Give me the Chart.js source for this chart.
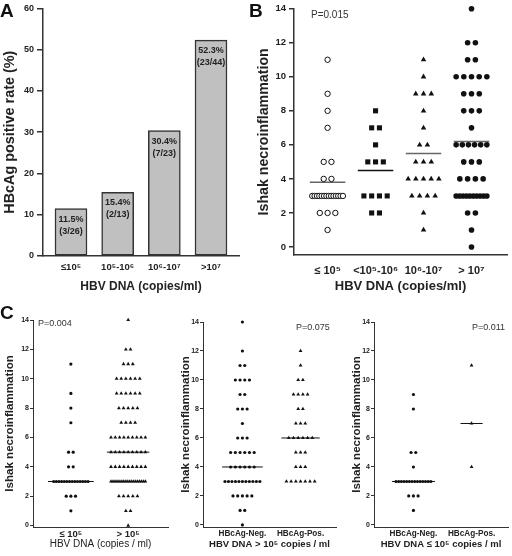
<!DOCTYPE html>
<html>
<head>
<meta charset="utf-8">
<script src="https://cdn.jsdelivr.net/npm/chart.js@4.4.1/dist/chart.umd.min.js"></script>
<style>
  body { margin: 0; background: #fff; }
  #page { position: relative; width: 512px; height: 556px; background: #fff; font-family: Arial, "Liberation Sans", sans-serif; }
  canvas { position: absolute; }
  .letter { position: absolute; font-weight: bold; font-size: 19px; line-height: 19px; color: #111; }
  .pval { position: absolute; line-height: 10px; color: #333; white-space: nowrap; }
</style>
</head>
<body>
<div id="page">
  <canvas id="chartA" width="250" height="300" style="left:0;top:0"></canvas>
  <canvas id="chartB" width="256" height="300" style="left:256px;top:0"></canvas>
  <canvas id="chartC1" width="172" height="256" style="left:0;top:300px"></canvas>
  <canvas id="chartC2" width="168" height="256" style="left:172px;top:300px"></canvas>
  <canvas id="chartC3" width="172" height="256" style="left:340px;top:300px"></canvas>

  <div class="letter" style="left:0;top:1px">A</div>
  <div class="letter" style="left:249px;top:1px">B</div>
  <div class="letter" style="left:0;top:303px">C</div>

  <div class="pval" style="left:311px;top:10px;font-size:10px">P=0.015</div>
  <div class="pval" style="left:38px;top:318px;font-size:9px">P=0.004</div>
  <div class="pval" style="left:296px;top:322px;font-size:9px">P=0.075</div>
  <div class="pval" style="left:472px;top:322px;font-size:9px">P=0.011</div>
</div>

<script>
// ---------- data ----------

// Panel A: HBcAg positive rate by HBV DNA level
const aCategories = ['≤10⁵', '10⁵-10⁶', '10⁶-10⁷', '>10⁷'];
const aRates = [11.5, 15.4, 30.4, 52.3];
const aCounts = ['(3/26)', '(2/13)', '(7/23)', '(23/44)'];
const aTicks = [0, 10, 20, 30, 40, 50, 60];

// Panel B: Ishak scores per HBV DNA group
const bCategories = ['≤ 10⁵', '<10⁵-10⁶', '10⁶-10⁷', '> 10⁷'];
const bLow = [11, 9, 8, 7, 5, 5, 4, 4, 3, 3, 3, 3, 3, 3, 3, 3, 3, 3, 3, 3, 3, 3, 2, 2, 2, 1];
const bMid1 = [8, 7, 7, 6, 5, 5, 5, 3, 3, 3, 3, 2, 2];
const bMid2 = [11, 10, 9, 9, 9, 8, 7, 6, 6, 5, 5, 5, 4, 4, 4, 4, 4, 3, 3, 3, 3, 2, 1];
const bHigh = [14, 12, 12, 11, 11, 10, 10, 10, 10, 10, 9, 9, 9, 8, 8, 8, 7, 6, 6, 6, 6, 6, 6,
               5, 5, 5, 4, 4, 4, 4, 3, 3, 3, 3, 3, 3, 3, 3, 3, 3, 2, 2, 1, 0];
const bMeans = [3.8, 4.5, 5.5, 6.2];
const scoreTicks = [0, 2, 4, 6, 8, 10, 12, 14];

// Panel C left: <=10^5 vs >10^5 (the >10^5 group is the three upper groups of B)
const c1Categories = ['≤ 10⁵', '> 10⁵'];
const c1Low = bLow;
const c1High = [...bMid1, ...bMid2, ...bHigh];
const c1Medians = [3, 5];

// Panel C middle: HBV DNA > 10^5
const c2Categories = ['HBcAg-Neg.', 'HBcAg-Pos.'];
const c2Neg = [14, 12, 11, 11, 10, 10, 10, 10, 9, 9, 8, 8, 8, 7, 6, 6, 6, 5, 5, 5, 5, 5, 5,
               4, 4, 4, 4, 4, 4, 3, 3, 3, 3, 3, 3, 3, 3, 3, 3, 3, 2, 2, 2, 2, 2, 1, 1, 0];
const c2Pos = [12, 11, 10, 10, 9, 9, 9, 9, 8, 8, 7, 7, 7, 6, 6, 6, 6, 6, 6, 5, 5, 5, 4, 4, 4,
               3, 3, 3, 3, 3, 3, 3];
const c2Medians = [4, 6];

// Panel C right: HBV DNA <= 10^5
const c3Categories = ['HBcAg-Neg.', 'HBcAg-Pos.'];
const c3Neg = [9, 8, 5, 5, 4, 3, 3, 3, 3, 3, 3, 3, 3, 3, 3, 3, 3, 3, 3, 2, 2, 2, 1];
const c3Pos = [11, 7, 4];
const c3Medians = [3, 7];

// ---------- helpers ----------

const FONT = 'Arial, "Liberation Sans", sans-serif';
const INK = '#333';
const TEXT = '#222';

// spread equal scores side by side around the category position
function swarm(values, cat, step, maxSpan) {
    const counts = {};
    values.forEach(v => { counts[v] = (counts[v] || 0) + 1; });
    const seen = {};
    return values.map(v => {
        const n = counts[v];
        const k = seen[v] = (seen[v] || 0) + 1;
        const gap = n > 1 ? Math.min(step, maxSpan / (n - 1)) : 0;
        return { x: cat + (k - 1 - (n - 1) / 2) * gap, y: v };
    });
}

function dots(points, style, radius, fill, border) {
    return {
        data: points,
        pointStyle: style,
        pointRadius: radius,
        pointBackgroundColor: fill,
        pointBorderColor: border || fill,
        pointBorderWidth: border ? 1 : 0,
        showLine: false,
        clip: false
    };
}

function levelLine(cat, value, half, color, width) {
    return {
        data: [{ x: cat - half, y: value }, { x: cat + half, y: value }],
        showLine: true,
        pointRadius: 0,
        borderColor: color,
        borderWidth: width
    };
}

function yScale(o) {
    return {
        type: 'linear',
        min: o.min,
        max: o.max,
        afterBuildTicks: s => { s.ticks = o.ticks.map(v => ({ value: v })); },
        afterFit: s => { s.width = o.width; },
        border: { color: INK, width: o.line },
        grid: { drawOnChartArea: false, tickLength: o.tick, color: INK, lineWidth: o.line },
        ticks: { color: TEXT, padding: o.pad, font: { family: FONT, size: o.tickSize, weight: 'bold' } },
        title: {
            display: true, text: o.title, color: TEXT,
            padding: { top: o.titlePad, bottom: 0 },
            font: { family: FONT, size: o.titleSize, weight: 'bold' }
        }
    };
}

function xScale(o) {
    return {
        type: 'linear',
        offset: false,
        min: o.min,
        max: o.max,
        afterBuildTicks: s => { s.ticks = o.labels.map((_, i) => ({ value: i + 1 })); },
        afterFit: s => { s.height = o.height; },
        border: { color: INK, width: o.line },
        grid: { drawOnChartArea: false, drawTicks: false, offset: false },
        ticks: {
            color: TEXT, padding: o.pad, autoSkip: false, maxRotation: 0,
            callback: (v, i) => o.labels[i],
            font: { family: FONT, size: o.tickSize, weight: 'bold' }
        },
        title: {
            display: true, text: o.title, color: TEXT,
            padding: { top: 0, bottom: o.titlePad },
            font: { family: FONT, size: o.titleSize, weight: o.titleWeight || 'bold' }
        }
    };
}

function baseOptions(padding, scales) {
    return {
        responsive: false,
        animation: false,
        layout: { padding: padding },
        plugins: { legend: { display: false }, tooltip: { enabled: false } },
        scales: scales
    };
}

// ---------- Panel A ----------

const barLabels = {
    id: 'barLabels',
    afterDatasetsDraw(chart) {
        const ctx = chart.ctx;
        chart.getDatasetMeta(0).data.forEach((bar, i) => {
            ctx.save();
            ctx.fillStyle = TEXT;
            ctx.font = 'bold 9px ' + FONT;
            ctx.textAlign = 'center';
            ctx.textBaseline = 'middle';
            ctx.fillText(aRates[i].toFixed(1) + '%', bar.x, bar.y + 10.5);
            ctx.fillText(aCounts[i], bar.x, bar.y + 22.5);
            ctx.restore();
        });
    }
};

new Chart(document.getElementById('chartA'), {
    type: 'bar',
    data: {
        datasets: [{
            data: aRates.map((v, i) => ({ x: i + 1, y: v })),
            backgroundColor: '#c0c0c0',
            borderColor: INK,
            borderWidth: 1.5,
            borderSkipped: false,
            barThickness: 32
        }]
    },
    options: baseOptions({ left: 0, top: 7, right: 11, bottom: 0 }, {
        x: xScale({
            min: 0.4, max: 4.6, labels: aCategories, height: 44, line: 1.5, pad: 6, tickSize: 9.5,
            title: 'HBV DNA (copies/ml)', titleSize: 12, titlePad: 6
        }),
        y: yScale({
            min: 0, max: 60, ticks: aTicks, width: 43, line: 1.5, tick: 6, pad: 3, tickSize: 9,
            title: 'HBcAg positive rate (%)', titleSize: 14.4, titlePad: 1
        })
    }),
    plugins: [barLabels]
});

// ---------- Panel B ----------

const bStep = 0.162, bSpan = 0.64, bHalf = 0.37;

new Chart(document.getElementById('chartB'), {
    type: 'scatter',
    data: {
        datasets: [
            dots(swarm(bLow, 1, bStep, bSpan), 'circle', 2.7, '#fff', '#111'),
            dots(swarm(bMid1, 2, bStep, bSpan), 'rect', 3.6, '#111'),
            dots(swarm(bMid2, 3, bStep, bSpan), 'triangle', 3.2, '#111'),
            dots(swarm(bHigh, 4, bStep, bSpan), 'circle', 2.8, '#111'),
            ...bMeans.map((m, i) => levelLine(i + 1, m, bHalf, i === 1 ? '#111' : '#666', 1.5))
        ]
    },
    options: baseOptions({ left: 0, top: 8, right: 2, bottom: 0 }, {
        x: xScale({
            min: 0.30, max: 4.74, labels: bCategories, height: 45, line: 1.5, pad: 9, tickSize: 11,
            title: 'HBV DNA (copies/ml)', titleSize: 13, titlePad: 6
        }),
        y: yScale({
            min: -0.47, max: 14, ticks: scoreTicks, width: 38, line: 1.5, tick: 5, pad: 3, tickSize: 9.5,
            title: 'Ishak necroinflammation', titleSize: 14.2, titlePad: 0
        })
    })
});

// ---------- Panel C ----------

const cStep = 0.081, cSpan = 0.6;

function panelC(id, neg, pos, medians, halves, cats, frame) {
    return new Chart(document.getElementById(id), {
        type: 'scatter',
        data: {
            datasets: [
                dots(swarm(neg, 1, cStep, cSpan), 'circle', 1.6, '#111'),
                dots(swarm(pos, 2, cStep, cSpan), 'triangle', 2.2, '#111'),
                ...medians.map((m, i) => levelLine(i + 1, m, halves[i], '#111', 1))
            ]
        },
        options: baseOptions({ left: 0, top: frame.top, right: frame.right, bottom: 0 }, {
            x: xScale({
                min: frame.xMin, max: frame.xMax, labels: cats, height: 29, line: 1, pad: 2,
                tickSize: frame.tickSize, title: frame.title, titleSize: frame.titleSize,
                titleWeight: frame.titleWeight, titlePad: 6
            }),
            y: yScale({
                min: frame.yMin, max: 14, ticks: scoreTicks, width: frame.width, line: 1, tick: 3, pad: 1,
                tickSize: 7, title: 'Ishak necroinflammation', titleSize: 11.6, titlePad: frame.titlePad
            })
        })
    });
}

panelC('chartC1', c1Low, c1High, c1Medians, [0.4, 0.37], c1Categories, {
    top: 20, right: 0, width: 33, xMin: 0.339, xMax: 2.695, yMin: -0.1, titlePad: 3,
    tickSize: 9.5, title: 'HBV DNA (copies / ml)', titleSize: 10, titleWeight: 'normal'
});

panelC('chartC2', c2Neg, c2Pos, c2Medians, [0.35, 0.33], c2Categories, {
    top: 22, right: 2, width: 31, xMin: 0.322, xMax: 2.61, yMin: -0.14, titlePad: 7,
    tickSize: 8.2, title: 'HBV DNA > 10⁵ copies / ml', titleSize: 9.5
});

panelC('chartC3', c3Neg, c3Pos, c3Medians, [0.37, 0.19], c3Categories, {
    top: 22, right: 2, width: 34, xMin: 0.322, xMax: 2.627, yMin: -0.14, titlePad: 10,
    tickSize: 8.2, title: 'HBV DNA ≤ 10⁵ copies / ml', titleSize: 9.5
});
</script>
</body>
</html>
